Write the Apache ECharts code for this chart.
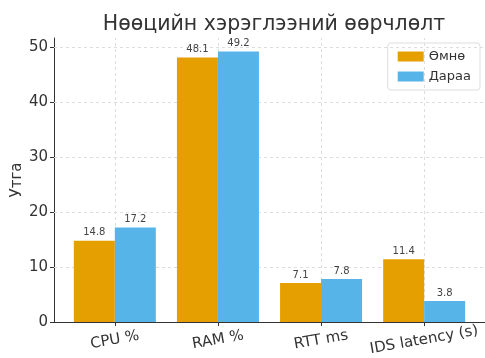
<!DOCTYPE html>
<html><head><meta charset="utf-8">
<script src="https://cdn.jsdelivr.net/npm/echarts@6/dist/echarts.min.js"></script>
<style>html,body{margin:0;padding:0;background:#fff}#c{width:485px;height:358px}</style>
</head><body><div id="c"></div>
<script>
const categories = ['CPU %', 'RAM %', 'RTT ms', 'IDS latency (s)'];
const before = [14.8, 48.1, 7.1, 11.4];
const after = [17.2, 49.2, 7.8, 3.8];
const seriesNames = ['Өмнө', 'Дараа'];
const yTicks = [0, 10, 20, 30, 40, 50];

const font = 'DejaVu Sans';
const chart = echarts.init(document.getElementById('c'));
const idx = categories.map((_, i) => i);
const label = {show: true, position: 'top', distance: 3, fontSize: 10, color: '#444', fontFamily: font};
const gridLine = {color: '#ddd', type: [3, 3], width: 1};
chart.setOption({
  animation: false,
  title: {text: 'Нөөцийн хэрэглээний өөрчлөлт', left: 269, textAlign: 'center', top: 9,
    textStyle: {fontFamily: font, fontSize: 20.5, fontWeight: 'normal', color: '#333'}},
  legend: {data: seriesNames, orient: 'vertical', right: 5, top: 43, itemWidth: 26, itemHeight: 10, itemGap: 7,
    padding: [7, 9, 7, 10], borderColor: '#ddd', borderWidth: 1, borderRadius: 3,
    textStyle: {fontFamily: font, fontSize: 13, color: '#333'}, icon: 'rect', zlevel: 2},
  grid: {left: 54, right: 0, top: 38, bottom: 36, containLabel: false, outerBoundsMode: 'none'},
  xAxis: {type: 'value', min: -0.59, max: 3.59,
    axisLine: {show: true, onZero: false, lineStyle: {color: '#333', width: 1}},
    axisTick: {show: true, customValues: idx, length: 4, lineStyle: {color: '#333'}},
    axisLabel: {customValues: idx, formatter: v => categories[Math.round(v)], rotate: 10, align: 'center', margin: 18,
      fontFamily: font, fontSize: 15, color: '#333'},
    splitLine: {show: false}},
  yAxis: {type: 'value', min: 0, max: 51.66, name: 'Утга', nameLocation: 'middle', nameGap: 29, nameMoveOverlap: false,
    nameTextStyle: {fontFamily: font, fontSize: 15, color: '#333'},
    axisLine: {show: true, onZero: false, lineStyle: {color: '#333', width: 1}},
    axisTick: {show: true, customValues: yTicks, length: 4, lineStyle: {color: '#333'}},
    axisLabel: {customValues: yTicks, fontFamily: font, fontSize: 15, color: '#333', margin: 6},
    splitLine: {show: false}},
  series: [
    {type: 'line', data: [], silent: true, zlevel: 0, z: 0,
      markLine: {silent: true, symbol: 'none', label: {show: false}, lineStyle: gridLine, animation: false,
        data: idx.map(i => ({xAxis: i})).concat(yTicks.filter(v => v > 0).map(v => ({yAxis: v})))}},
    {name: seriesNames[0], type: 'bar', zlevel: 1, data: before.map((v, i) => [i, v]), barWidth: 41, barGap: '0%',
      itemStyle: {color: '#E69F00'}, label},
    {name: seriesNames[1], type: 'bar', zlevel: 1, data: after.map((v, i) => [i, v]), barWidth: 41, barGap: '0%',
      itemStyle: {color: '#56B4E9'}, label}
  ]
});
</script></body></html>
